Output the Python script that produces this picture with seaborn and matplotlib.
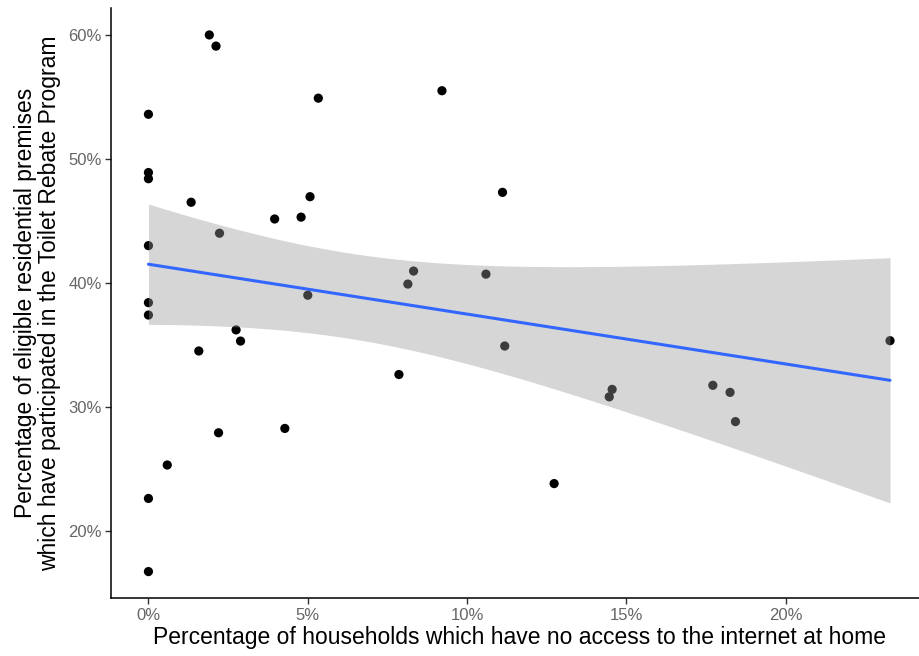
import numpy as np
import pandas as pd
import matplotlib
matplotlib.use("Agg")
import matplotlib.pyplot as plt
from matplotlib.ticker import FuncFormatter
import seaborn as sns

# Share of households without home internet (%) per area
no_internet = [1.91, 2.12, 5.33, 0.0, 0.0, 0.0, 1.34, 5.07, 3.96, 4.79, 2.23, 0.0, 5.0,
               0.0, 0.0, 2.75, 2.89, 1.58, 2.2, 4.28, 0.59, 0.0, 0.0,
               9.21, 11.11, 8.32, 8.14, 10.59, 11.18, 7.86, 14.55, 14.46, 12.73,
               23.27, 17.71, 18.25, 18.42]
# Share of eligible premises that joined the Toilet Rebate Program (%)
participation = [60.0, 59.1, 54.9, 53.6, 48.9, 48.4, 46.5, 46.95, 45.15, 45.3, 44.0, 43.0, 39.0,
                 38.4, 37.4, 36.2, 35.3, 34.5, 27.9, 28.25, 25.3, 22.6, 16.7,
                 55.5, 47.3, 40.95, 39.9, 40.7, 34.9, 32.6, 31.4, 30.8, 23.8,
                 35.33, 31.73, 31.16, 28.8]

x_ticks = [0, 5, 10, 15, 20]
y_ticks = [20, 30, 40, 50, 60]

df = pd.DataFrame({"no_internet": no_internet, "participation": participation})

sns.set_theme(style="ticks")
plt.rcParams["font.family"] = ["Liberation Sans", "DejaVu Sans"]

fig = plt.figure(figsize=(9.19, 6.56), dpi=100)
ax = fig.add_axes([0.1213, 0.0877, 0.8874, 0.9])

# points first, so the confidence ribbon shades the ones beneath it
sns.scatterplot(data=df, x="no_internet", y="participation", ax=ax,
                color="black", s=44, edgecolor="none", zorder=2)

# linear fit with a t-based 95% confidence band
x = df["no_internet"].to_numpy()
y = df["participation"].to_numpy()
n = len(x)
b1, b0 = np.polyfit(x, y, 1)
resid = y - (b0 + b1 * x)
s_err = np.sqrt(np.sum(resid ** 2) / (n - 2))
t_crit = 2.0301  # t(0.975, df=35)
grid = np.linspace(x.min(), x.max(), 80)
fit = b0 + b1 * grid
se = s_err * np.sqrt(1 / n + (grid - x.mean()) ** 2 / np.sum((x - x.mean()) ** 2))
band = pd.DataFrame({"x": grid, "fit": fit, "lo": fit - t_crit * se, "hi": fit + t_crit * se})

ax.fill_between(band["x"], band["lo"], band["hi"], color="#999999", alpha=0.4,
                linewidth=0, zorder=3)
sns.lineplot(data=band, x="x", y="fit", ax=ax, color="#3366FF", linewidth=2.2, zorder=4)

ax.set_xlim(-1.16, 24.43)
ax.set_ylim(14.53, 62.17)
ax.set_xticks(x_ticks)
ax.set_yticks(y_ticks)
pct = FuncFormatter(lambda v, _: f"{v:.0f}%")
ax.xaxis.set_major_formatter(pct)
ax.yaxis.set_major_formatter(pct)

for side in ("top", "right"):
    ax.spines[side].set_visible(False)
for side in ("left", "bottom"):
    ax.spines[side].set_color("black")
    ax.spines[side].set_linewidth(1.1)

ax.tick_params(axis="both", colors="#333333", length=4.5, width=1.0,
               labelsize=12, labelcolor="#666666", pad=2.5)

ax.set_xlabel("Percentage of households which have no access to the internet at home",
              fontsize=16.5, color="black", labelpad=2)
ax.set_ylabel("Percentage of eligible residential premises\n"
              "which have participated in the Toilet Rebate Program",
              fontsize=16.5, color="black", labelpad=5, linespacing=1.05)

fig.savefig("out.png", dpi=100)
